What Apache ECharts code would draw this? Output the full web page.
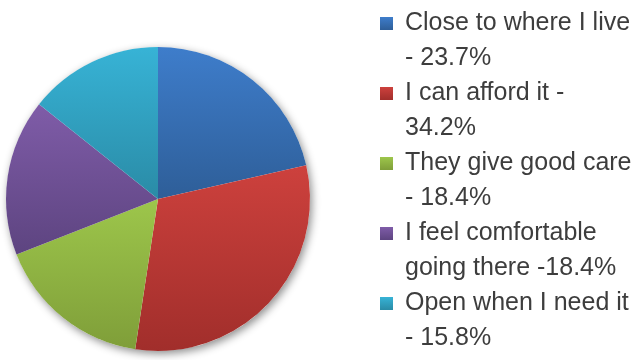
<!DOCTYPE html>
<html>
<head>
<meta charset="utf-8">
<script src="https://cdn.jsdelivr.net/npm/echarts@6/dist/echarts.min.js"></script>
<style>
  html, body { margin: 0; padding: 0; background: #ffffff; }
  #chart { width: 639px; height: 360px; }
</style>
</head>
<body>
<div id="chart"></div>
<script>
// Reasons for choosing a clinic (share of responses)
const categories = [
  'Close to where I live',
  'I can afford it',
  'They give good care',
  'I feel comfortable going there',
  'Open when I need it'
];
const values = [23.7, 34.2, 18.4, 18.4, 15.8];

// How each legend entry is broken over two lines ahead of its percentage
const legendPrefixes = [
  'Close to where I live\n- ',
  'I can afford it -\n',
  'They give good care\n- ',
  'I feel comfortable\ngoing there -',
  'Open when I need it\n- '
];

// Top / bottom shades of each slice's vertical gradient
const topColors = ['#3e7dcb', '#cd413d', '#9dc64b', '#7f5ca8', '#37b3d6'];
const bottomColors = ['#2e5e98', '#a12e2b', '#7f9e39', '#5d4480', '#2a8ba6'];

const pieCenter = [158, 199];
const pieRadius = 152;

const chart = echarts.init(document.getElementById('chart'), null, { renderer: 'canvas' });

const pieData = categories.map((name, i) => ({
  name: name,
  value: values[i],
  itemStyle: {
    color: new echarts.graphic.LinearGradient(0, 0, 0, 1, [
      { offset: 0, color: topColors[i] },
      { offset: 1, color: bottomColors[i] }
    ])
  }
}));

const total = values.reduce((a, b) => a + b, 0);

chart.setOption({
  animation: false,
  backgroundColor: '#ffffff',
  legend: {
    orient: 'vertical',
    left: 375,
    top: -34,
    height: 460,
    itemWidth: 13,
    itemHeight: 13,
    itemGap: -35,
    icon: 'rect',
    data: categories,
    formatter: function (name) {
      const i = categories.indexOf(name);
      // leading blank line keeps the first text line level with the marker
      return '\n' + legendPrefixes[i] + values[i] + '%';
    },
    textStyle: {
      fontFamily: 'Liberation Sans',
      fontSize: 25,
      lineHeight: 35,
      color: '#3d3d3d',
      padding: [0, 0, 0, 7]
    }
  },
  series: [
    {
      // soft drop shadow underneath the pie
      type: 'pie',
      silent: true,
      center: pieCenter,
      radius: pieRadius,
      label: { show: false },
      labelLine: { show: false },
      itemStyle: {
        color: '#ffffff',
        shadowBlur: 8,
        shadowOffsetX: 2,
        shadowOffsetY: 3,
        shadowColor: 'rgba(0,0,0,0.45)'
      },
      data: [{ name: 'all', value: total }],
      z: 1
    },
    {
      type: 'pie',
      center: pieCenter,
      radius: pieRadius,
      startAngle: 90,
      clockwise: true,
      label: { show: false },
      labelLine: { show: false },
      itemStyle: { borderWidth: 0 },
      emphasis: { disabled: true },
      data: pieData,
      z: 2
    }
  ]
});
</script>
</body>
</html>
